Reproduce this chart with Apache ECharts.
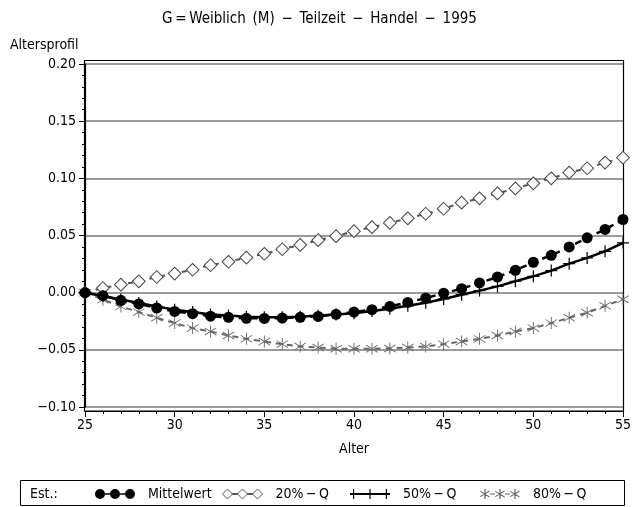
<!DOCTYPE html>
<html><head><meta charset="utf-8">
<script src="https://cdn.jsdelivr.net/npm/echarts@6/dist/echarts.min.js"></script>
<style>html,body{margin:0;padding:0;background:#fff}#c{width:639px;height:507px}</style>
</head><body><div id="c"></div>
<script>
const ages = [25,26,27,28,29,30,31,32,33,34,35,36,37,38,39,40,41,42,43,44,45,46,47,48,49,50,51,52,53,54,55];
const mittelwert = [0,-0.0026,-0.0067,-0.0099,-0.0134,-0.0164,-0.0184,-0.0206,-0.0216,-0.0224,-0.0225,-0.0222,-0.0216,-0.0208,-0.0189,-0.0169,-0.0149,-0.012,-0.0085,-0.0047,-0.0005,0.0035,0.0085,0.0137,0.0196,0.0266,0.0327,0.040,0.048,0.0553,0.064];
const q20 = [0,0.0041,0.007,0.0099,0.0137,0.0167,0.020,0.024,0.027,0.0307,0.034,0.038,0.0418,0.0459,0.0494,0.0538,0.0573,0.061,0.065,0.069,0.0734,0.0787,0.0825,0.0868,0.0912,0.0956,0.100,0.105,0.1088,0.1138,0.118];
const q50 = [0,-0.003,-0.006,-0.009,-0.012,-0.015,-0.017,-0.019,-0.020,-0.021,-0.0215,-0.0215,-0.021,-0.020,-0.019,-0.018,-0.016,-0.014,-0.0115,-0.0088,-0.0055,-0.0018,0.0018,0.0055,0.010,0.0143,0.0193,0.0254,0.0304,0.0362,0.0436];
const q80 = [0,-0.0061,-0.012,-0.017,-0.022,-0.0266,-0.031,-0.034,-0.0374,-0.0404,-0.0427,-0.045,-0.047,-0.048,-0.049,-0.049,-0.049,-0.0488,-0.048,-0.047,-0.045,-0.0427,-0.0404,-0.0374,-0.034,-0.031,-0.0266,-0.022,-0.0176,-0.0115,-0.0058];
const seriesNames = ['Mittelwert','20%\u2009\u2212\u2009Q','50%\u2009\u2212\u2009Q','80%\u2009\u2212\u2009Q'];
const titleText = 'G\u2009=\u2009Weiblich\u2002(M)\u2002\u2212\u2002Teilzeit\u2002\u2212\u2002Handel\u2002\u2212\u20021995';
const yTicks = {min:-0.10, max:0.20, interval:0.05};
const xTicks = {min:25, max:55, interval:5};

const FONT = '"Liberation Sans Narrow","DejaVu Sans Condensed","Liberation Sans",sans-serif';
const pts = vals => ages.map((a,i)=>[a, vals[i]]);

const plusSym = 'path://M9,0H11V20H9Z M0,9H20V11H0Z';
const starSym = 'path://M9.3,0H10.7V20H9.3Z M1.39,3.42L19.39,15.42L18.61,16.58L0.61,4.58Z M0.61,15.42L18.61,3.42L19.39,4.58L1.39,16.58Z';

const iconMean = 'path://M0,5a5,5 0 1,0 10,0a5,5 0 1,0 -10,0Z M15,5a5,5 0 1,0 10,0a5,5 0 1,0 -10,0Z M30,5a5,5 0 1,0 10,0a5,5 0 1,0 -10,0Z M10,4.2H15V5.8H10Z M25,4.2H30V5.8H25Z';
const iconDia = 'path://M5,0L10,5L5,10L0,5Z M20,0L25,5L20,10L15,5Z M35,0L40,5L35,10L30,5Z M10,4.5H15V5.5H10Z M25,4.5H30V5.5H25Z';
const iconPlus = 'path://M0,4H40V6H0Z M3,0H4.2V10H3Z M19.4,0H20.6V10H19.4Z M35.8,0H37V10H35.8Z';
const iconStar = 'path://M4.4,0H5.6V10H4.4Z M0.5,2L9.8,7.6L9.3,8.4L0,2.8Z M0,7.2L9.3,1.6L9.8,2.4L0.5,8Z M19.4,0H20.6V10H19.4Z M15.5,2L24.8,7.6L24.3,8.4L15,2.8Z M15,7.2L24.3,1.6L24.8,2.4L15.5,8Z M34.4,0H35.6V10H34.4Z M30.5,2L39.8,7.6L39.3,8.4L30,2.8Z M30,7.2L39.3,1.6L39.8,2.4L30.5,8Z M10,4.5H15V5.5H10Z M25,4.5H30V5.5H25Z';

const legendBase = {
  orient:'horizontal', top:482, itemWidth:40, itemHeight:10, itemGap:10,
  textStyle:{fontFamily:FONT, fontSize:14, color:'#000', padding:[0,0,0,8]},
  selectedMode:false
};

const chart = echarts.init(document.getElementById('c'), null, {renderer:'canvas'});
chart.setOption({
  animation:false,
  backgroundColor:'#fff',
  title:{text:titleText, left:'center', top:7, textStyle:{fontFamily:FONT, fontSize:15, fontWeight:'normal', color:'#000'}},
  grid:{left:85, right:16, top:64, bottom:100, containLabel:false},
  xAxis:{type:'value', min:xTicks.min, max:xTicks.max, interval:xTicks.interval, offset:4,
    name:'Alter', nameLocation:'middle', nameGap:31,
    nameTextStyle:{fontFamily:FONT, fontSize:14, color:'#000'},
    axisLine:{show:true, onZero:false, lineStyle:{color:'#000', width:1.2}},
    axisTick:{show:true, inside:false, length:6, lineStyle:{color:'#000', width:1}},
    minorTick:{show:true, splitNumber:5, length:3, lineStyle:{color:'#000', width:1}},
    axisLabel:{fontFamily:FONT, fontSize:14, color:'#000', margin:7},
    splitLine:{show:false}},
  yAxis:{type:'value', min:yTicks.min, max:yTicks.max, interval:yTicks.interval,
    name:'Altersprofil', nameLocation:'end', nameGap:12,
    nameTextStyle:{fontFamily:FONT, fontSize:14, color:'#000', align:'left', padding:[0,0,0,-75]},
    axisLine:{show:true, lineStyle:{color:'#000', width:1.2}},
    axisTick:{show:true, length:6, lineStyle:{color:'#000', width:1}},
    minorTick:{show:true, splitNumber:5, length:3, lineStyle:{color:'#000', width:1}},
    axisLabel:{fontFamily:FONT, fontSize:14, color:'#000', margin:9,
      formatter:v=>{const s=Math.abs(v).toFixed(2); return v<-1e-9 ? '\u2212'+s : s;}},
    splitLine:{show:true, lineStyle:{color:'#7a7a7a', width:1.5}}},
  legend:[
    Object.assign({}, legendBase, {left:90, data:[{name:seriesNames[0], icon:iconMean}]}),
    Object.assign({}, legendBase, {left:217, data:[{name:seriesNames[1], icon:iconDia, itemStyle:{color:'#fff', borderColor:'#555', borderWidth:1}}]}),
    Object.assign({}, legendBase, {left:345, data:[{name:seriesNames[2], icon:iconPlus}]}),
    Object.assign({}, legendBase, {left:475, data:[{name:seriesNames[3], icon:iconStar}]})
  ],
  graphic:[
    {type:'rect', silent:true, z:-1, shape:{x:84.5, y:60.5, width:539, height:350.5}, style:{fill:'none', stroke:'#000', lineWidth:1.2}},
    {type:'rect', silent:true, shape:{x:20.5, y:480.5, width:604, height:25}, style:{fill:'none', stroke:'#000', lineWidth:1}},
    {type:'text', silent:true, left:30, top:487, style:{text:'Est.:', font:'14px '+FONT, fill:'#000'}}
  ],
  series:[
    {name:seriesNames[1], type:'line', data:pts(q20), clip:false, z:3,
      symbol:'rect', symbolSize:9, symbolRotate:45,
      itemStyle:{color:'#fff', borderColor:'#444', borderWidth:1},
      lineStyle:{color:'#555', width:2, type:[5,6]}},
    {name:seriesNames[3], type:'line', data:pts(q80), clip:false, z:3,
      symbol:starSym, symbolSize:12,
      itemStyle:{color:'#666'},
      lineStyle:{color:'#666', width:2, type:[6,5]}},
    {name:seriesNames[2], type:'line', data:pts(q50), clip:false, z:4,
      symbol:plusSym, symbolSize:12,
      itemStyle:{color:'#000'},
      lineStyle:{color:'#000', width:2.5, type:'solid'}},
    {name:seriesNames[0], type:'line', data:pts(mittelwert), clip:false, z:5,
      symbol:'circle', symbolSize:11,
      itemStyle:{color:'#000'},
      lineStyle:{color:'#000', width:2.5, type:[7,5]}}
  ]
});
</script></body></html>
